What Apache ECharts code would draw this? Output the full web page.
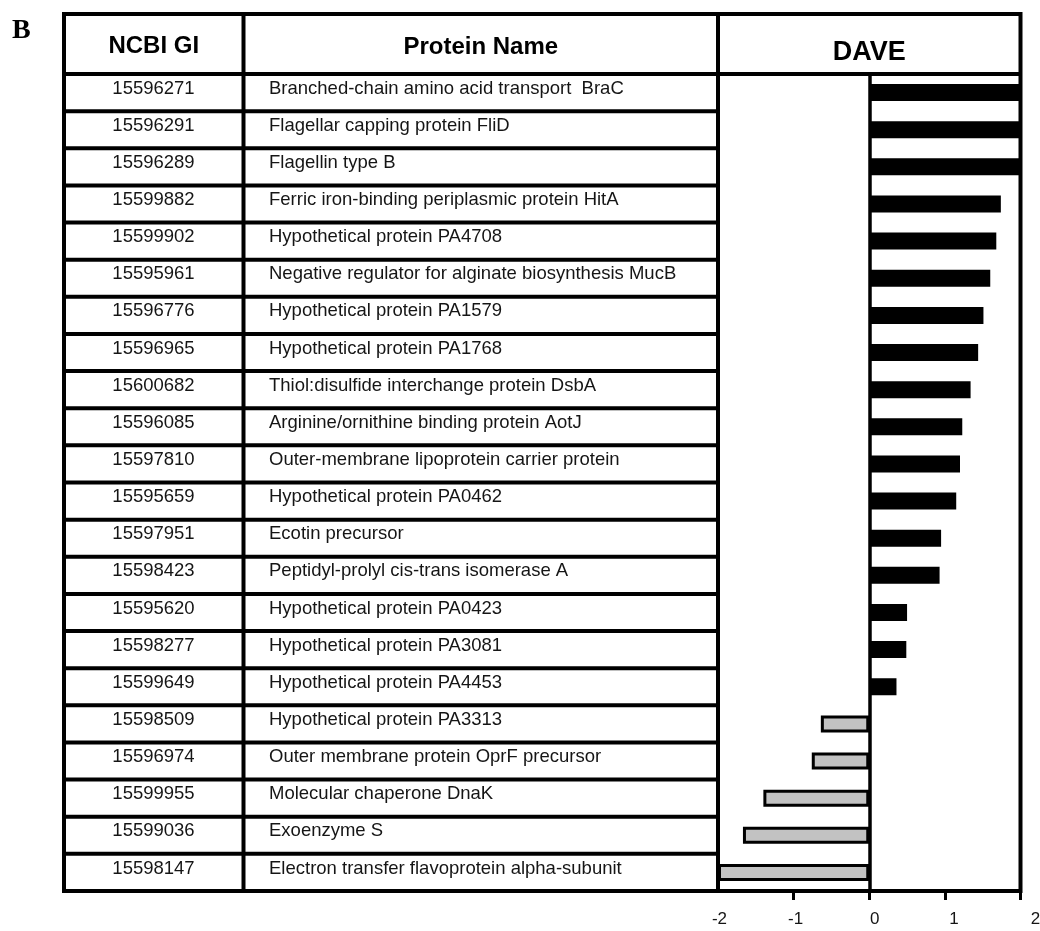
<!DOCTYPE html>
<html>
<head>
<meta charset="utf-8">
<script src="https://cdn.jsdelivr.net/npm/echarts@6/dist/echarts.min.js"></script>
<style>
  html, body { margin: 0; padding: 0; background: #fff; }
  #chart { width: 1040px; height: 931px; }
</style>
</head>
<body>
<div id="chart"></div>
<script>
// Protein table rows (top to bottom) and their DAVE scores
const ncbiIds = [
  '15596271', '15596291', '15596289', '15599882', '15599902', '15595961',
  '15596776', '15596965', '15600682', '15596085', '15597810', '15595659',
  '15597951', '15598423', '15595620', '15598277', '15599649', '15598509',
  '15596974', '15599955', '15599036', '15598147'
];

const proteinNames = [
  'Branched-chain amino acid transport  BraC',
  'Flagellar capping protein FliD',
  'Flagellin type B',
  'Ferric iron-binding periplasmic protein HitA',
  'Hypothetical protein PA4708',
  'Negative regulator for alginate biosynthesis MucB',
  'Hypothetical protein PA1579',
  'Hypothetical protein PA1768',
  'Thiol:disulfide interchange protein DsbA',
  'Arginine/ornithine binding protein AotJ',
  'Outer-membrane lipoprotein carrier protein',
  'Hypothetical protein PA0462',
  'Ecotin precursor',
  'Peptidyl-prolyl cis-trans isomerase A',
  'Hypothetical protein PA0423',
  'Hypothetical protein PA3081',
  'Hypothetical protein PA4453',
  'Hypothetical protein PA3313',
  'Outer membrane protein OprF precursor',
  'Molecular chaperone DnaK',
  'Exoenzyme S',
  'Electron transfer flavoprotein alpha-subunit'
];

const daveValues = [
  2.0, 2.0, 2.0, 1.74, 1.68, 1.60, 1.51, 1.44, 1.34, 1.23, 1.20, 1.15,
  0.95, 0.93, 0.50, 0.49, 0.36, -0.64, -0.76, -1.40, -1.67, -2.0
];

const xTickValues = [-2, -1, 0, 1, 2];

const FONT = "'Liberation Sans', Arial, Helvetica, sans-serif";
const INK = '#151515';

// Tick labels sit slightly to the right of their ticks
const tickLabelShift = { '-2': 3, '-1': 4, '0': 11, '1': 18, '2': 30 };
const tickRich = {};
xTickValues.forEach(function (v, i) {
  tickRich['t' + i] = {
    fontFamily: FONT, fontSize: 17, color: INK,
    padding: [0, 0, 0, tickLabelShift[String(v)]]
  };
});

// row text is set a little above the middle of each row
const rowTextRich = {
  r: { fontFamily: FONT, fontSize: 18.5, color: INK, padding: [0, 0, 8, 0] }
};
function rowText(value) {
  return '{r|' + value + '}';
}

const chart = echarts.init(document.getElementById('chart'), null, { renderer: 'canvas' });

const barData = daveValues.map(function (v) {
  return {
    value: v,
    itemStyle: { color: v >= 0 ? '#000000' : '#c2c2c2' }
  };
});

chart.setOption({
  backgroundColor: '#ffffff',
  animation: false,
  grid: {
    left: 718, right: 19.5, top: 74, bottom: 40,
    containLabel: false,
    outerBoundsMode: 'none'
  },
  xAxis: {
    type: 'value',
    min: -2,
    max: 2,
    interval: 1,
    splitLine: { show: false },
    axisLine: { show: true, onZero: false, lineStyle: { color: '#000', width: 3 } },
    axisTick: {
      show: true, length: 9, inside: false,
      customValues: [-1, 0, 1, 2],
      lineStyle: { color: '#000', width: 3 }
    },
    axisLabel: {
      margin: 20,
      formatter: function (val) {
        const idx = xTickValues.indexOf(val);
        return idx >= 0 ? '{t' + idx + '|' + val + '}' : '';
      },
      rich: tickRich
    }
  },
  yAxis: [
    {
      type: 'category',
      data: ncbiIds,
      inverse: true,
      axisLine: { show: true, onZero: true, lineStyle: { color: '#000', width: 3.5 } },
      axisTick: { show: false },
      axisLabel: { show: false },
      splitLine: { show: false }
    },
    {
      type: 'category',
      data: ncbiIds,
      inverse: true,
      position: 'left',
      axisLine: { show: false, onZero: false },
      axisTick: { show: false },
      splitLine: { show: false },
      axisLabel: {
        interval: 0,
        margin: 718 - 153.5,
        align: 'center',
        formatter: rowText,
        rich: rowTextRich
      }
    },
    {
      type: 'category',
      data: proteinNames,
      inverse: true,
      position: 'left',
      axisLine: { show: false, onZero: false },
      axisTick: { show: false },
      splitLine: { show: false },
      axisLabel: {
        interval: 0,
        margin: 718 - 269,
        align: 'left',
        formatter: rowText,
        rich: rowTextRich
      }
    }
  ],
  series: [{
    type: 'bar',
    yAxisIndex: 0,
    data: barData,
    barWidth: 17,
    clip: false,
    itemStyle: { borderColor: '#000', borderWidth: 3 }
  }]
});

// Table frame, row rules and headers, placed from the category axis bands
const c0 = chart.convertToPixel({ yAxisIndex: 0 }, 0);
const c1 = chart.convertToPixel({ yAxisIndex: 0 }, 1);
const band = c1 - c0;
const rowTop = c0 - band / 2;
const rowBottom = rowTop + band * ncbiIds.length;
const plotLeft = chart.convertToPixel({ xAxisIndex: 0 }, -2);
const plotRight = chart.convertToPixel({ xAxisIndex: 0 }, 2);

const tableLeft = 64;
const tableTop = 14;
const idDivider = 243.5;

const graphics = [];
function hLine(x1, x2, y, w) {
  graphics.push({ type: 'line', z: 50, shape: { x1: x1, y1: y, x2: x2, y2: y },
    style: { stroke: '#000', lineWidth: w } });
}
function vLine(x, y1, y2, w) {
  graphics.push({ type: 'line', z: 50, shape: { x1: x, y1: y1, x2: x, y2: y2 },
    style: { stroke: '#000', lineWidth: w } });
}

// outer frame
graphics.push({
  type: 'rect', z: 50,
  shape: { x: tableLeft, y: tableTop, width: plotRight - tableLeft, height: rowBottom - tableTop },
  style: { fill: null, stroke: '#000', lineWidth: 4 }
});
// column dividers
vLine(idDivider, tableTop, rowBottom, 4);
vLine(plotLeft, tableTop, rowBottom, 4);
// header underline
hLine(tableLeft, plotRight, rowTop, 4);
// row rules in the text columns
for (let k = 1; k < ncbiIds.length; k++) {
  hLine(tableLeft, plotLeft, rowTop + k * band, 4);
}

// header texts
function headText(txt, x, y, size) {
  graphics.push({
    type: 'text', z: 60, x: x, y: y,
    style: {
      text: txt, fill: '#000', fontFamily: FONT, fontWeight: 'bold', fontSize: size,
      align: 'center', verticalAlign: 'middle'
    }
  });
}
headText('NCBI GI', (tableLeft + idDivider) / 2, 46, 24);
headText('Protein Name', (idDivider + plotLeft) / 2, 47, 24);
headText('DAVE', (plotLeft + plotRight) / 2, 53, 27);

// panel letter
graphics.push({
  type: 'text', z: 60, x: 12, y: 31,
  style: {
    text: 'B', fill: '#000', fontFamily: "'Liberation Serif', 'Times New Roman', serif",
    fontWeight: 'bold', fontSize: 28, align: 'left', verticalAlign: 'middle'
  }
});

chart.setOption({ graphic: graphics });
</script>
</body>
</html>
